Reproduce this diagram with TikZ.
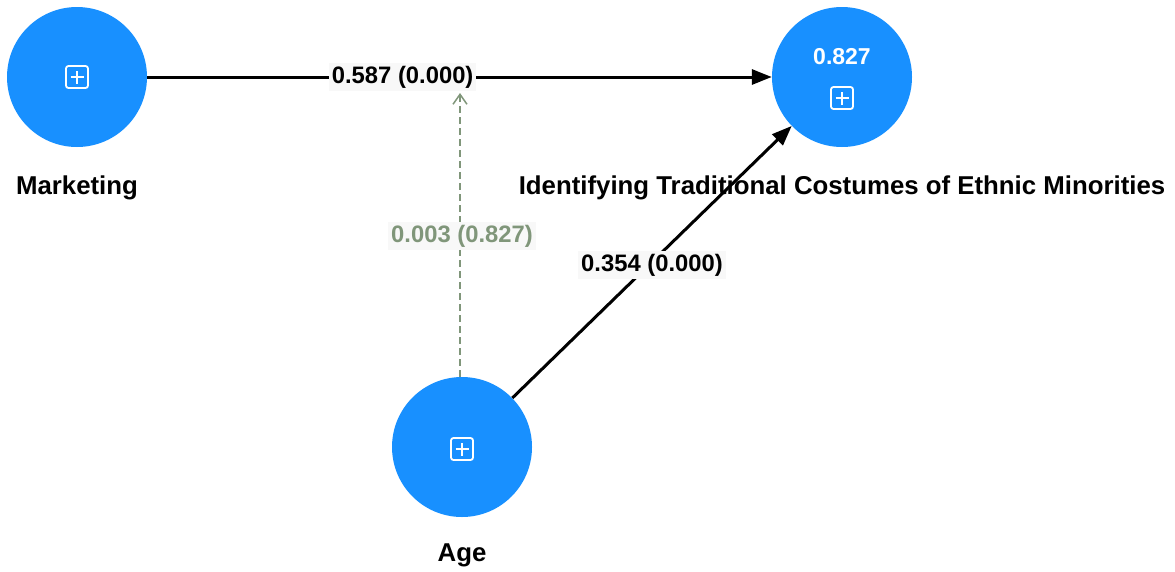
\documentclass[tikz,border=0pt]{standalone}
\usepackage{fontspec}
\setmainfont{Liberation Sans}
\usetikzlibrary{arrows.meta}
\definecolor{nodeblue}{RGB}{24,144,255}
\definecolor{dgreen}{RGB}{128,150,122}
\definecolor{lblbg}{RGB}{248,248,248}
\tikzset{
  lv/.style={circle, fill=nodeblue, minimum size=140pt, inner sep=0pt},
  nm/.style={font=\bfseries\fontsize{25.8}{28}\selectfont, text=black},
  pth/.style={line width=3pt, draw=black, -{Triangle[length=20pt,width=15pt]}},
  lbl/.style={fill=lblbg, font=\bfseries\fontsize{23.8}{26}\selectfont, inner sep=3pt},
  plusicon/.pic={
    \draw[white, line width=1.8pt, rounded corners=2.5pt] (-11pt,-11pt) rectangle (11pt,11pt);
    \draw[white, line width=1.8pt] (-6.5pt,0) -- (6.5pt,0) (0,-6.5pt) -- (0,6.5pt);
  }
}
\begin{document}
\begin{tikzpicture}[x=1pt,y=-1pt]
\useasboundingbox (0,0) rectangle (1175,571);
\node[lv] (mk) at (77,77) {};
\node[lv] (tg) at (842,77) {};
\node[lv] (ag) at (462,447) {};
\pic at (77,77) {plusicon};
\pic at (842,98) {plusicon};
\pic at (462,449) {plusicon};
\node[text=white, font=\bfseries\fontsize{23}{26}\selectfont] (r2) at (842,57) {0.827};
\node[nm] (mkl) at (77,188) {Marketing};
\node[nm] (tgl) at (842,188) {Identifying Traditional Costumes of Ethnic Minorities};
\node[nm] (agl) at (462,555) {Age};
\draw[pth] (mk) -- (tg) node[lbl, pos=0.409] (l1) {0.587 (0.000)};
\draw[pth] (ag) -- (tg) node[lbl, pos=0.5, yshift=-3pt] (l3) {0.354 (0.000)};
\coordinate (mtip) at (460,93);
\draw[dgreen, line width=2.5pt, dash pattern=on 7pt off 4pt, -{Straight Barb[length=10pt,width=14pt,line width=1.5pt]}] (ag.north -| mtip) -- (mtip);
\node[lbl, text=dgreen] (l2) at (462,236) {0.003 (0.827)};
\end{tikzpicture}
\end{document}
